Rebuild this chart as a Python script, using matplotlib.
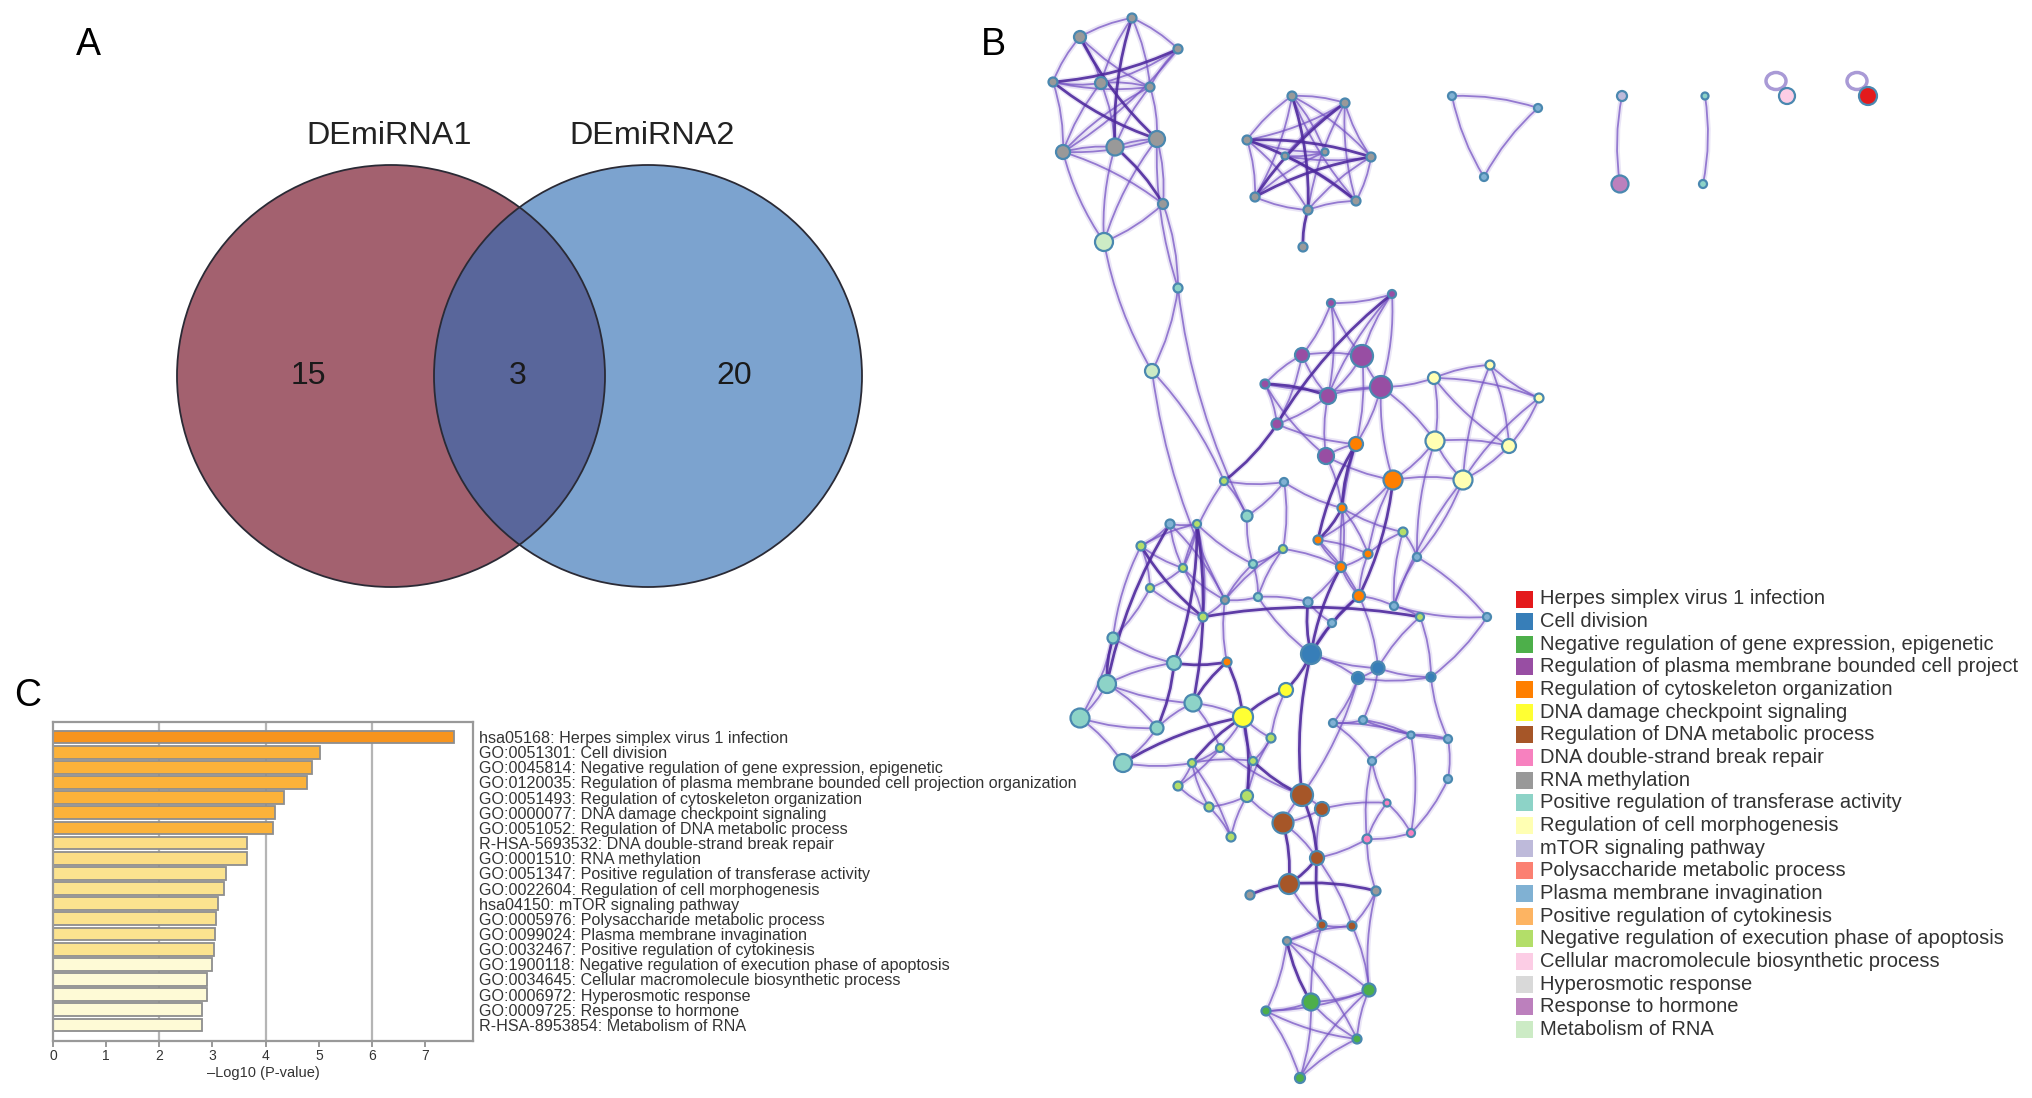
import numpy as np
import matplotlib
matplotlib.use("Agg")
import matplotlib.pyplot as plt
from matplotlib.patches import Ellipse, Rectangle, PathPatch
from matplotlib.path import Path

plt.rcParams['font.family'] = ['Liberation Sans', 'DejaVu Sans']

# ---------------- DATA ----------------
venn_sets = ["DEmiRNA1", "DEmiRNA2"]
venn_counts = [15, 3, 20]          # only set1, both, only set2

bar_terms = [
    "hsa05168: Herpes simplex virus 1 infection",
    "GO:0051301: Cell division",
    "GO:0045814: Negative regulation of gene expression, epigenetic",
    "GO:0120035: Regulation of plasma membrane bounded cell projection organization",
    "GO:0051493: Regulation of cytoskeleton organization",
    "GO:0000077: DNA damage checkpoint signaling",
    "GO:0051052: Regulation of DNA metabolic process",
    "R-HSA-5693532: DNA double-strand break repair",
    "GO:0001510: RNA methylation",
    "GO:0051347: Positive regulation of transferase activity",
    "GO:0022604: Regulation of cell morphogenesis",
    "hsa04150: mTOR signaling pathway",
    "GO:0005976: Polysaccharide metabolic process",
    "GO:0099024: Plasma membrane invagination",
    "GO:0032467: Positive regulation of cytokinesis",
    "GO:1900118: Negative regulation of execution phase of apoptosis",
    "GO:0034645: Cellular macromolecule biosynthetic process",
    "GO:0006972: Hyperosmotic response",
    "GO:0009725: Response to hormone",
    "R-HSA-8953854: Metabolism of RNA",
]
bar_values = [7.55, 5.02, 4.88, 4.78, 4.34, 4.17, 4.13, 3.65, 3.64, 3.26,
              3.21, 3.11, 3.06, 3.04, 3.03, 3.00, 2.89, 2.89, 2.81, 2.81]
bar_colors = ["#F7941D"] + ["#FBB23A"] * 6 + ["#FBDD85"] * 2 + ["#FBE38F"] * 6 + ["#FEFAD6"] * 5

legend_terms = [
    "Herpes simplex virus 1 infection", "Cell division",
    "Negative regulation of gene expression, epigenetic",
    "Regulation of plasma membrane bounded cell project",
    "Regulation of cytoskeleton organization", "DNA damage checkpoint signaling",
    "Regulation of DNA metabolic process", "DNA double-strand break repair",
    "RNA methylation", "Positive regulation of transferase activity",
    "Regulation of cell morphogenesis", "mTOR signaling pathway",
    "Polysaccharide metabolic process", "Plasma membrane invagination",
    "Positive regulation of cytokinesis",
    "Negative regulation of execution phase of apoptosis",
    "Cellular macromolecule biosynthetic process", "Hyperosmotic response",
    "Response to hormone", "Metabolism of RNA",
]
legend_colors = ["#e41a1c", "#377eb8", "#4daf4a", "#984ea3", "#ff7f00", "#ffff33",
                 "#a65628", "#f781bf", "#999999", "#8dd3c7", "#ffffb3", "#bebada",
                 "#fb8072", "#80b1d3", "#fdb462", "#b3de69", "#fccde5", "#d9d9d9",
                 "#bc80bd", "#ccebc5"]

# network nodes: (name, x, y, radius, category)
nodes_top_left = [
    ("a0", 1132, 18, 4.5, 8), ("a1", 1080, 37, 6, 8), ("a2", 1178, 49, 4.5, 8),
    ("a3", 1053, 82, 4.5, 8), ("a4", 1101, 83, 6, 8), ("a5", 1150, 87, 4.5, 8),
    ("a6", 1063, 152, 7, 8), ("a7", 1115, 147, 8.5, 8), ("a8", 1157, 139, 8, 8),
    ("a9", 1163, 204, 5, 8), ("a10", 1104, 242, 9, 19), ("a11", 1178, 288, 4.5, 9),
    ("a12", 1152, 371, 7, 19),
]
nodes_star = [
    ("b0", 1292, 96, 4.5, 8), ("b1", 1345, 103, 4.5, 8), ("b2", 1247, 140, 4.5, 8),
    ("b3", 1371, 157, 4.5, 8), ("b4", 1255, 197, 4.5, 8), ("b5", 1356, 201, 4.5, 8),
    ("b6", 1308, 210, 4.5, 8), ("b7", 1303, 247, 4.5, 8), ("b8", 1285, 156, 3.5, 8),
    ("b9", 1325, 152, 3.5, 8),
]
nodes_small = [
    ("c0", 1452, 96, 4, 13), ("c1", 1538, 108, 4, 13), ("c2", 1484, 177, 4, 13),
    ("d0", 1622, 96, 5, 11), ("d1", 1620, 184, 8.5, 18),
    ("e0", 1705, 96, 3.5, 9), ("e1", 1703, 184, 4, 9),
    ("f0", 1787, 96, 8, 16), ("g0", 1868, 96, 9, 0),
]
nodes_main = [
    ("m0", 1331, 303, 4, 3), ("m1", 1392, 294, 4, 3), ("m2", 1302, 355, 7, 3),
    ("m3", 1362, 356, 11, 3), ("m4", 1265, 384, 4.5, 3), ("m5", 1328, 396, 8, 3),
    ("m6", 1381, 387, 11, 3), ("m7", 1277, 424, 5.5, 3), ("m8", 1326, 456, 8, 3),
    ("m9", 1356, 444, 7, 4), ("m10", 1393, 480, 9.5, 4), ("m11", 1434, 378, 6, 10),
    ("m12", 1490, 365, 4.5, 10), ("m13", 1539, 398, 4.5, 10), ("m14", 1435, 441, 9.5, 10),
    ("m15", 1509, 446, 7, 10), ("m16", 1463, 480, 9.5, 10), ("m17", 1224, 481, 4, 15),
    ("m18", 1284, 482, 4, 13), ("m19", 1247, 516, 5.5, 9), ("m20", 1342, 508, 4.5, 4),
    ("m21", 1170, 524, 4.5, 13), ("m22", 1197, 524, 4, 15), ("m23", 1141, 546, 4.5, 15),
    ("m24", 1318, 540, 4.5, 4), ("m25", 1403, 532, 4.5, 15), ("m26", 1368, 554, 4.5, 4),
    ("m27", 1417, 557, 4, 13), ("m28", 1283, 549, 4, 15), ("m29", 1183, 568, 4, 15),
    ("m30", 1253, 564, 4, 9), ("m31", 1341, 567, 5, 4), ("m32", 1150, 588, 4, 15),
    ("m33", 1225, 600, 4, 8), ("m34", 1258, 597, 4, 9), ("m35", 1359, 596, 6, 4),
    ("m36", 1308, 602, 4.5, 13), ("m37", 1394, 606, 4, 13), ("m38", 1203, 617, 4.5, 15),
    ("m39", 1332, 623, 4, 13), ("m40", 1420, 617, 4, 15), ("m41", 1487, 617, 4, 13),
    ("m42", 1113, 638, 5.5, 9), ("m43", 1174, 663, 7, 9), ("m44", 1227, 662, 4.5, 4),
    ("m45", 1311, 654, 10, 1), ("m46", 1378, 668, 6.5, 1), ("m47", 1358, 678, 6, 1),
    ("m48", 1431, 677, 4.5, 1), ("m49", 1107, 684, 9, 9), ("m50", 1286, 690, 7, 5),
    ("m51", 1193, 703, 8.5, 9), ("m52", 1080, 718, 9.5, 9), ("m53", 1243, 717, 10, 5),
    ("m54", 1157, 728, 6.5, 9), ("m55", 1333, 723, 4, 13), ("m56", 1363, 720, 4, 13),
    ("m57", 1271, 738, 4.5, 15), ("m58", 1220, 748, 4, 15), ("m59", 1448, 739, 4, 13),
    ("m60", 1411, 735, 3.5, 13), ("m61", 1123, 763, 9, 9), ("m62", 1253, 761, 4, 15),
    ("m63", 1192, 763, 4, 15), ("m64", 1372, 761, 4, 13), ("m65", 1178, 786, 4.5, 15),
    ("m66", 1247, 796, 6, 15), ("m67", 1209, 807, 4.5, 15), ("m68", 1231, 837, 4.5, 15),
    ("m69", 1302, 795, 11, 6), ("m70", 1322, 809, 7, 6), ("m71", 1283, 823, 10.5, 6),
    ("m72", 1367, 839, 4.5, 7), ("m73", 1411, 833, 4, 7), ("m74", 1387, 803, 3.5, 7),
    ("m75", 1448, 779, 4, 13), ("m76", 1317, 858, 7, 6), ("m77", 1289, 884, 10, 6),
    ("m78", 1250, 895, 4.5, 8), ("m79", 1376, 891, 4.5, 8), ("m80", 1322, 925, 4.5, 6),
    ("m81", 1352, 926, 4.5, 6), ("m82", 1287, 941, 4, 8), ("m83", 1311, 1002, 8.5, 2),
    ("m84", 1369, 990, 6.5, 2), ("m85", 1266, 1011, 4.5, 2), ("m86", 1357, 1039, 4.5, 2),
    ("m87", 1300, 1078, 5, 2),
]
self_loops = ["f0", "g0"]

edges_normal = """
a0-a1 a0-a2 a0-a4 a0-a5 a1-a3 a1-a4 a1-a5 a2-a4 a2-a5 a2-a6 a3-a4 a3-a6 a3-a5
a4-a5 a4-a6 a4-a7 a5-a6 a5-a8 a5-a7 a6-a7 a6-a8 a6-a9 a6-a10 a7-a8 a7-a10 a8-a9
a8-a10 a9-a10 a8-a11 a9-a11 a10-a12 a11-a12 a11-m19 a12-m17 a12-m33
b0-b1 b1-b3 b3-b5 b5-b6 b6-b4 b4-b2 b2-b0 b0-b5 b1-b2 b3-b0 b6-b1 b6-b2 b6-b3
b4-b0 b5-b1 b8-b3 b8-b1 b9-b4 b9-b2 b8-b9 b8-b5 b9-b0
c0-c1 c1-c2 c2-c0 d0-d1 e0-e1
m0-m1 m0-m2 m0-m3 m0-m5 m1-m3 m1-m6 m1-m5 m2-m3 m2-m5 m2-m7 m2-m4 m3-m5 m3-m6
m3-m9 m4-m6 m4-m7 m4-m8 m5-m6 m5-m8 m5-m7 m6-m11 m6-m9 m6-m10 m6-m14 m7-m9
m8-m9 m8-m10 m8-m20 m9-m31 m10-m16 m10-m14 m10-m24 m10-m26 m11-m14 m11-m15
m11-m12 m12-m13 m12-m15 m12-m16 m13-m15 m13-m16 m14-m15 m14-m16 m15-m16 m14-m27
m16-m27 m16-m37 m11-m13 m17-m18 m17-m19 m17-m29 m18-m19 m18-m20 m18-m28 m19-m30
m20-m26 m20-m25 m20-m31 m21-m22 m21-m23 m21-m29 m21-m33 m22-m23 m22-m29 m22-m30
m22-m38 m23-m29 m23-m32 m23-m42 m24-m26 m24-m31 m24-m35 m25-m26 m25-m27 m25-m37
m26-m31 m26-m35 m27-m41 m27-m37 m28-m30 m28-m34 m28-m31 m28-m33 m29-m32 m29-m33
m29-m38 m30-m33 m30-m34 m31-m35 m31-m36 m32-m38 m32-m42 m33-m34 m33-m38 m33-m44
m34-m36 m34-m45 m35-m37 m35-m39 m35-m46 m36-m39 m37-m40 m37-m41 m38-m43 m39-m45
m40-m48 m40-m46 m41-m48 m42-m43 m42-m52 m43-m49 m45-m47 m45-m46 m46-m47 m46-m48
m47-m55 m47-m48 m49-m52 m49-m51 m49-m54 m50-m57 m51-m53 m51-m54 m51-m58 m52-m54
m52-m61 m53-m57 m53-m58 m53-m62 m54-m61 m55-m56 m55-m60 m56-m59 m56-m60 m59-m60
m59-m75 m60-m64 m55-m64 m61-m63 m58-m63 m62-m63 m57-m62 m57-m66 m58-m65 m62-m66
m63-m65 m63-m67 m63-m68 m65-m67 m66-m67 m66-m68 m67-m68 m58-m69 m69-m70 m69-m71
m70-m71 m70-m76 m71-m76 m72-m73 m72-m74 m73-m74 m72-m76 m73-m75 m60-m73 m64-m74
m76-m81 m77-m80 m79-m81 m80-m81 m80-m82 m81-m82 m82-m84 m80-m83 m81-m84 m83-m84
m83-m85 m83-m86 m84-m85 m84-m86 m85-m87 m86-m87 m83-m87 m84-m87 m82-m85 m79-m84
m70-m74 m69-m47 m71-m66 m48-m59 m46-m56 m64-m72 m79-m72 m85-m86 m82-m86
""".split()
edges_strong = """
a1-a8 a2-a3 a0-a7 a7-a9 a3-a8
b0-b6 b1-b4 b2-b3 b3-b4 b2-b5 b6-b7
m4-m5 m1-m7 m7-m17 m9-m20 m20-m24 m9-m24 m45-m50 m50-m53 m44-m53 m36-m45
m69-m76 m76-m80 m71-m77 m77-m78 m77-m79 m82-m83 m38-m40 m23-m38 m22-m43 m42-m49
m61-m53 m62-m69 m76-m77 m44-m51 m53-m66 m35-m45 m10-m35 m31-m45 m22-m51 m21-m49
m43-m54 m53-m63 m69-m45 m43-m44
""".split()

# ---------------- FIGURE ----------------
W, H = 2032, 1098
fig = plt.figure(figsize=(W / 100, H / 100), dpi=100)
canvas = fig.add_axes([0, 0, 1, 1])
canvas.set_xlim(0, W)
canvas.set_ylim(H, 0)
canvas.axis('off')

# panel letters
for letter, (px, py) in zip("ABC", [(88, 45), (993, 45), (28, 696)]):
    canvas.text(px, py, letter, fontsize=27, ha='center', va='center', color='black')

# ---------- Venn ----------
left = Ellipse((391, 376), 428, 422, facecolor='#a3616f', edgecolor='none', zorder=2)
right = Ellipse((648, 376), 428, 422, facecolor='#7ca3cf', edgecolor='none', zorder=2)
canvas.add_patch(left)
canvas.add_patch(right)
inter = Ellipse((648, 376), 428, 422, facecolor='#59669b', edgecolor='none', zorder=3)
canvas.add_patch(inter)
inter.set_clip_path(left)
for cx in (391, 648):
    canvas.add_patch(Ellipse((cx, 376), 428, 422, facecolor='none',
                             edgecolor='#2a2a35', lw=1.3, zorder=4))
canvas.text(389, 136, venn_sets[0], fontsize=23.3, ha='center', va='center', color='#222')
canvas.text(652, 136, venn_sets[1], fontsize=23.3, ha='center', va='center', color='#222')
for xpos, cnt in zip((308, 518, 734), venn_counts):
    canvas.text(xpos, 376, str(cnt), fontsize=23, ha='center', va='center',
                color='#1a1a1a', zorder=5)

# ---------- Network ----------
all_nodes = nodes_top_left + nodes_star + nodes_small + nodes_main
idx = {n[0]: i for i, n in enumerate(all_nodes)}
node_x = np.array([n[1] for n in all_nodes], float)
node_y = np.array([n[2] for n in all_nodes], float)
node_r = np.array([n[3] for n in all_nodes], float)
node_c = [legend_colors[n[4]] for n in all_nodes]


def draw_edge(a, b, k, strong):
    p = np.array([node_x[idx[a]], node_y[idx[a]]])
    q = np.array([node_x[idx[b]], node_y[idx[b]]])
    d = q - p
    ctrl = (p + q) / 2 + np.array([-d[1], d[0]]) * 0.09 * k
    path = Path([p, ctrl, q], [Path.MOVETO, Path.CURVE3, Path.CURVE3])
    canvas.add_patch(PathPatch(path, facecolor='none', edgecolor='#c3b6e6',
                               lw=4.0, alpha=0.35, zorder=5, capstyle='round'))
    if strong:
        canvas.add_patch(PathPatch(path, facecolor='none', edgecolor='#4f2a9e',
                                   lw=2.0, alpha=0.9, zorder=6))
    else:
        canvas.add_patch(PathPatch(path, facecolor='none', edgecolor='#7755c4',
                                   lw=1.3, alpha=0.75, zorder=6))


for i, e in enumerate(edges_normal):
    a, b = e.split('-')
    draw_edge(a, b, 1 if i % 2 == 0 else -1, False)
for i, e in enumerate(edges_strong):
    a, b = e.split('-')
    draw_edge(a, b, 1 if i % 2 == 0 else -1, True)

for n in self_loops:
    x0, y0 = node_x[idx[n]], node_y[idx[n]]
    canvas.add_patch(Ellipse((x0 - 11, y0 - 15), 20, 17, facecolor='none',
                             edgecolor='#a99ad6', lw=2.5, zorder=6))

canvas.scatter(node_x, node_y, s=(1.44 * node_r) ** 2, c=node_c,
               edgecolors='#4a88b0', linewidths=1.6, zorder=8)

# ---------- Legend ----------
for i, (term, col) in enumerate(zip(legend_terms, legend_colors)):
    yy = 599 + i * 22.65
    canvas.add_patch(Rectangle((1516, yy - 8.5), 17, 17, facecolor=col,
                               edgecolor='none', zorder=3))
    canvas.text(1540, yy, term, fontsize=14.5, ha='left', va='center', color='#333333')

# ---------- Bar chart ----------
ax = fig.add_axes([53 / W, 1 - 1041 / H, 420 / W, 319 / H])
ypos = np.arange(len(bar_values))
for xg in (2, 4, 6):
    ax.axvline(xg, color='#b5b5b5', lw=1.6, zorder=0)
ax.barh(ypos, bar_values, height=0.84, color=bar_colors, edgecolor='#8e8e8e',
        linewidth=1.3, zorder=2)
ax.set_xlim(0, 7.9)
ax.set_ylim(20.06, -0.99)
ax.set_xticks(range(8))
ax.yaxis.tick_right()
ax.set_yticks(ypos)
ax.set_yticklabels(bar_terms, fontsize=11.6, color='#333333')
ax.tick_params(axis='y', length=0, pad=4)
ax.tick_params(axis='x', length=4, width=1.2, color='#888888', labelsize=10,
               labelcolor='#333333', pad=2)
for sp in ax.spines.values():
    sp.set_color('#999999')
    sp.set_linewidth(1.6)
ax.set_xlabel('\u2013Log10 (P-value)', fontsize=10.5, color='#333333', labelpad=2)

fig.savefig('out.png', dpi=100)
